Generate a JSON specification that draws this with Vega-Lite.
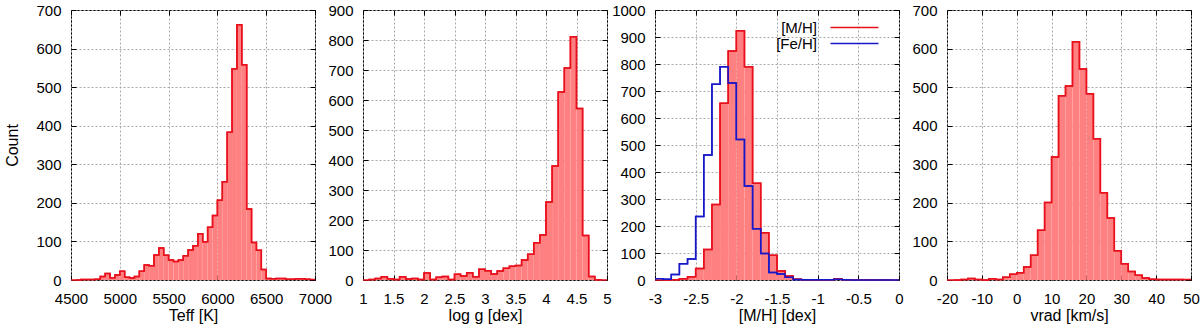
{
  "$schema": "https://vega.github.io/schema/vega-lite/v6.json",
  "padding": {"left": 4, "top": 2, "right": 5, "bottom": 2},
  "bounds": "flush",
  "spacing": 48,
  "config": {
    "locale": {"number": {"decimal": ".", "thousands": "", "grouping": [3], "currency": ["", ""], "minus": "-"}},
    "view": {"stroke": "#000000", "strokeWidth": 1},
    "font": "Liberation Sans",
    "axis": {
      "domain": false, "tickColor": "#000000", "tickSize": -5, "tickWidth": 1,
      "labelFont": "Liberation Sans", "labelFontSize": 15, "labelColor": "#000000",
      "titleFont": "Liberation Sans", "titleFontSize": 16, "titleFontWeight": "normal", "titleColor": "#000000",
      "gridColor": "#a8a8a8", "gridDash": [2, 2], "gridWidth": 1,
      "labelOverlap": false, "labelFlush": false, "format": "~f"
    },
    "axisX": {"labelPadding": 16, "titlePadding": 1},
    "axisY": {"labelPadding": 15, "titlePadding": 15},
    "legend": {"labelFont": "Liberation Sans", "labelFontSize": 15, "labelColor": "#000000"}
  },
  "datasets": {
    "teff": [
      {"lo":4500,"hi":4550,"count":0},{"lo":4550,"hi":4600,"count":0},{"lo":4600,"hi":4650,"count":1},{"lo":4650,"hi":4700,"count":1},
      {"lo":4700,"hi":4750,"count":1},{"lo":4750,"hi":4800,"count":2},{"lo":4800,"hi":4850,"count":9},{"lo":4850,"hi":4900,"count":17},
      {"lo":4900,"hi":4950,"count":6},{"lo":4950,"hi":5000,"count":13},{"lo":5000,"hi":5050,"count":23},{"lo":5050,"hi":5100,"count":7},
      {"lo":5100,"hi":5150,"count":5},{"lo":5150,"hi":5200,"count":9},{"lo":5200,"hi":5250,"count":23},{"lo":5250,"hi":5300,"count":39},
      {"lo":5300,"hi":5350,"count":37},{"lo":5350,"hi":5400,"count":65},{"lo":5400,"hi":5450,"count":83},{"lo":5450,"hi":5500,"count":64},
      {"lo":5500,"hi":5550,"count":52},{"lo":5550,"hi":5600,"count":48},{"lo":5600,"hi":5650,"count":52},{"lo":5650,"hi":5700,"count":63},
      {"lo":5700,"hi":5750,"count":78},{"lo":5750,"hi":5800,"count":89},{"lo":5800,"hi":5850,"count":120},{"lo":5850,"hi":5900,"count":99},
      {"lo":5900,"hi":5950,"count":137},{"lo":5950,"hi":6000,"count":167},{"lo":6000,"hi":6050,"count":207},{"lo":6050,"hi":6100,"count":255},
      {"lo":6100,"hi":6150,"count":383},{"lo":6150,"hi":6200,"count":548},{"lo":6200,"hi":6250,"count":662},{"lo":6250,"hi":6300,"count":558},
      {"lo":6300,"hi":6350,"count":184},{"lo":6350,"hi":6400,"count":97},{"lo":6400,"hi":6450,"count":77},{"lo":6450,"hi":6500,"count":27},
      {"lo":6500,"hi":6550,"count":4},{"lo":6550,"hi":6600,"count":3},{"lo":6600,"hi":6650,"count":4},{"lo":6650,"hi":6700,"count":4},
      {"lo":6700,"hi":6750,"count":2},{"lo":6750,"hi":6800,"count":2},{"lo":6800,"hi":6850,"count":3},{"lo":6850,"hi":6900,"count":3},
      {"lo":6900,"hi":6950,"count":2},{"lo":6950,"hi":7000,"count":1}
    ],
    "logg": [
      {"lo":1.0,"hi":1.1,"count":0},{"lo":1.1,"hi":1.2,"count":2},{"lo":1.2,"hi":1.3,"count":5},{"lo":1.3,"hi":1.4,"count":11},
      {"lo":1.4,"hi":1.5,"count":4},{"lo":1.5,"hi":1.6,"count":2},{"lo":1.6,"hi":1.7,"count":11},{"lo":1.7,"hi":1.8,"count":3},
      {"lo":1.8,"hi":1.9,"count":5},{"lo":1.9,"hi":2.0,"count":2},{"lo":2.0,"hi":2.1,"count":23},{"lo":2.1,"hi":2.2,"count":2},
      {"lo":2.2,"hi":2.3,"count":9},{"lo":2.3,"hi":2.4,"count":12},{"lo":2.4,"hi":2.5,"count":2},{"lo":2.5,"hi":2.6,"count":19},
      {"lo":2.6,"hi":2.7,"count":13},{"lo":2.7,"hi":2.8,"count":24},{"lo":2.8,"hi":2.9,"count":11},{"lo":2.9,"hi":3.0,"count":36},
      {"lo":3.0,"hi":3.1,"count":31},{"lo":3.1,"hi":3.2,"count":20},{"lo":3.2,"hi":3.3,"count":30},{"lo":3.3,"hi":3.4,"count":39},
      {"lo":3.4,"hi":3.5,"count":46},{"lo":3.5,"hi":3.6,"count":48},{"lo":3.6,"hi":3.7,"count":67},{"lo":3.7,"hi":3.8,"count":86},
      {"lo":3.8,"hi":3.9,"count":124},{"lo":3.9,"hi":4.0,"count":150},{"lo":4.0,"hi":4.1,"count":260},{"lo":4.1,"hi":4.2,"count":380},
      {"lo":4.2,"hi":4.3,"count":627},{"lo":4.3,"hi":4.4,"count":707},{"lo":4.4,"hi":4.5,"count":811},{"lo":4.5,"hi":4.6,"count":572},
      {"lo":4.6,"hi":4.7,"count":148},{"lo":4.7,"hi":4.8,"count":12},{"lo":4.8,"hi":4.9,"count":1},{"lo":4.9,"hi":5.0,"count":0}
    ],
    "mh": [
      {"series":"[M/H]","lo":-3.0,"hi":-2.9,"count":0},{"series":"[M/H]","lo":-2.9,"hi":-2.8,"count":0},
      {"series":"[M/H]","lo":-2.8,"hi":-2.7,"count":1},{"series":"[M/H]","lo":-2.7,"hi":-2.6,"count":5},
      {"series":"[M/H]","lo":-2.6,"hi":-2.5,"count":12},{"series":"[M/H]","lo":-2.5,"hi":-2.4,"count":43},
      {"series":"[M/H]","lo":-2.4,"hi":-2.3,"count":113},{"series":"[M/H]","lo":-2.3,"hi":-2.2,"count":280},
      {"series":"[M/H]","lo":-2.2,"hi":-2.1,"count":655},{"series":"[M/H]","lo":-2.1,"hi":-2.0,"count":848},
      {"series":"[M/H]","lo":-2.0,"hi":-1.9,"count":923},{"series":"[M/H]","lo":-1.9,"hi":-1.8,"count":790},
      {"series":"[M/H]","lo":-1.8,"hi":-1.7,"count":358},{"series":"[M/H]","lo":-1.7,"hi":-1.6,"count":175},
      {"series":"[M/H]","lo":-1.6,"hi":-1.5,"count":92},{"series":"[M/H]","lo":-1.5,"hi":-1.4,"count":33},
      {"series":"[M/H]","lo":-1.4,"hi":-1.3,"count":15},{"series":"[M/H]","lo":-1.3,"hi":-1.2,"count":3},
      {"series":"[M/H]","lo":-1.2,"hi":-1.1,"count":1},{"series":"[M/H]","lo":-1.1,"hi":-1.0,"count":1},
      {"series":"[M/H]","lo":-1.0,"hi":-0.9,"count":1},{"series":"[M/H]","lo":-0.9,"hi":-0.8,"count":1},
      {"series":"[M/H]","lo":-0.8,"hi":-0.7,"count":5},{"series":"[M/H]","lo":-0.7,"hi":-0.6,"count":1},
      {"series":"[M/H]","lo":-0.6,"hi":-0.5,"count":1},{"series":"[M/H]","lo":-0.5,"hi":-0.4,"count":0},
      {"series":"[M/H]","lo":-0.4,"hi":-0.3,"count":1},{"series":"[M/H]","lo":-0.3,"hi":-0.2,"count":0},
      {"series":"[M/H]","lo":-0.2,"hi":-0.1,"count":0},{"series":"[M/H]","lo":-0.1,"hi":0.0,"count":0},
      {"series":"[Fe/H]","lo":-3.0,"hi":-2.9,"count":5},{"series":"[Fe/H]","lo":-2.9,"hi":-2.8,"count":3},
      {"series":"[Fe/H]","lo":-2.8,"hi":-2.7,"count":20},{"series":"[Fe/H]","lo":-2.7,"hi":-2.6,"count":60},
      {"series":"[Fe/H]","lo":-2.6,"hi":-2.5,"count":78},{"series":"[Fe/H]","lo":-2.5,"hi":-2.4,"count":235},
      {"series":"[Fe/H]","lo":-2.4,"hi":-2.3,"count":463},{"series":"[Fe/H]","lo":-2.3,"hi":-2.2,"count":725},
      {"series":"[Fe/H]","lo":-2.2,"hi":-2.1,"count":790},{"series":"[Fe/H]","lo":-2.1,"hi":-2.0,"count":730},
      {"series":"[Fe/H]","lo":-2.0,"hi":-1.9,"count":520},{"series":"[Fe/H]","lo":-1.9,"hi":-1.8,"count":348},
      {"series":"[Fe/H]","lo":-1.8,"hi":-1.7,"count":190},{"series":"[Fe/H]","lo":-1.7,"hi":-1.6,"count":98},
      {"series":"[Fe/H]","lo":-1.6,"hi":-1.5,"count":28},{"series":"[Fe/H]","lo":-1.5,"hi":-1.4,"count":22},
      {"series":"[Fe/H]","lo":-1.4,"hi":-1.3,"count":10},{"series":"[Fe/H]","lo":-1.3,"hi":-1.2,"count":2},
      {"series":"[Fe/H]","lo":-1.2,"hi":-1.1,"count":1},{"series":"[Fe/H]","lo":-1.1,"hi":-1.0,"count":1},
      {"series":"[Fe/H]","lo":-1.0,"hi":-0.9,"count":1},{"series":"[Fe/H]","lo":-0.9,"hi":-0.8,"count":1},
      {"series":"[Fe/H]","lo":-0.8,"hi":-0.7,"count":3},{"series":"[Fe/H]","lo":-0.7,"hi":-0.6,"count":1},
      {"series":"[Fe/H]","lo":-0.6,"hi":-0.5,"count":0},{"series":"[Fe/H]","lo":-0.5,"hi":-0.4,"count":0},
      {"series":"[Fe/H]","lo":-0.4,"hi":-0.3,"count":0},{"series":"[Fe/H]","lo":-0.3,"hi":-0.2,"count":0},
      {"series":"[Fe/H]","lo":-0.2,"hi":-0.1,"count":0},{"series":"[Fe/H]","lo":-0.1,"hi":0.0,"count":0}
    ],
    "vrad": [
      {"lo":-20,"hi":-18,"count":0},{"lo":-18,"hi":-16,"count":0},{"lo":-16,"hi":-14,"count":1},{"lo":-14,"hi":-12,"count":4},
      {"lo":-12,"hi":-10,"count":1},{"lo":-10,"hi":-8,"count":0},{"lo":-8,"hi":-6,"count":3},{"lo":-6,"hi":-4,"count":1},
      {"lo":-4,"hi":-2,"count":7},{"lo":-2,"hi":0,"count":15},{"lo":0,"hi":2,"count":19},{"lo":2,"hi":4,"count":34},
      {"lo":4,"hi":6,"count":64},{"lo":6,"hi":8,"count":129},{"lo":8,"hi":10,"count":201},{"lo":10,"hi":12,"count":319},
      {"lo":12,"hi":14,"count":478},{"lo":14,"hi":16,"count":503},{"lo":16,"hi":18,"count":618},{"lo":18,"hi":20,"count":547},
      {"lo":20,"hi":22,"count":483},{"lo":22,"hi":24,"count":366},{"lo":24,"hi":26,"count":226},{"lo":26,"hi":28,"count":161},
      {"lo":28,"hi":30,"count":76},{"lo":30,"hi":32,"count":42},{"lo":32,"hi":34,"count":22},{"lo":34,"hi":36,"count":12},
      {"lo":36,"hi":38,"count":5},{"lo":38,"hi":40,"count":2},{"lo":40,"hi":42,"count":1},{"lo":42,"hi":44,"count":1},
      {"lo":44,"hi":46,"count":1},{"lo":46,"hi":48,"count":1},{"lo":48,"hi":50,"count":1}
    ]
  },
  "hconcat": [
    {
      "width": 244, "height": 270,
      "data": {"name": "teff"},
      "layer": [
        {"mark": {"type": "rect", "color": "#ff8080"},
         "encoding": {
           "x": {"field": "lo", "type": "quantitative", "scale": {"domain": [4500, 7000], "nice": false, "zero": false},
                 "axis": {"values": [4500,5000,5500,6000,6500,7000], "title": "Teff [K]"}},
           "x2": {"field": "hi"},
           "y": {"field": "count", "type": "quantitative", "scale": {"domain": [0, 700], "nice": false},
                 "axis": {"values": [0,100,200,300,400,500,600,700], "title": "Count"}},
           "y2": {"datum": 0}}},
        {"mark": {"type": "line", "interpolate": "step-after", "color": "#e8101c", "strokeWidth": 1.5},
         "encoding": {
           "x": {"field": "lo", "type": "quantitative", "axis": {"orient": "top", "values": [4500,5000,5500,6000,6500,7000], "labels": false, "grid": false, "title": null}},
           "y": {"field": "count", "type": "quantitative", "axis": {"orient": "right", "values": [0,100,200,300,400,500,600,700], "labels": false, "grid": false, "title": null}}}},
        {"mark": {"type": "line", "interpolate": "step-before", "color": "#e8101c", "strokeWidth": 1.5},
         "encoding": {
           "x": {"field": "hi", "type": "quantitative", "axis": null},
           "y": {"field": "count", "type": "quantitative", "axis": null}}}
      ],
      "resolve": {"axis": {"x": "independent", "y": "independent"}}
    },
    {
      "width": 244, "height": 270,
      "data": {"name": "logg"},
      "layer": [
        {"mark": {"type": "rect", "color": "#ff8080"},
         "encoding": {
           "x": {"field": "lo", "type": "quantitative", "scale": {"domain": [1, 5], "nice": false, "zero": false},
                 "axis": {"values": [1,1.5,2,2.5,3,3.5,4,4.5,5], "title": "log g [dex]"}},
           "x2": {"field": "hi"},
           "y": {"field": "count", "type": "quantitative", "scale": {"domain": [0, 900], "nice": false},
                 "axis": {"values": [0,100,200,300,400,500,600,700,800,900], "title": null}},
           "y2": {"datum": 0}}},
        {"mark": {"type": "line", "interpolate": "step-after", "color": "#e8101c", "strokeWidth": 1.5},
         "encoding": {
           "x": {"field": "lo", "type": "quantitative", "axis": {"orient": "top", "values": [1,1.5,2,2.5,3,3.5,4,4.5,5], "labels": false, "grid": false, "title": null}},
           "y": {"field": "count", "type": "quantitative", "axis": {"orient": "right", "values": [0,100,200,300,400,500,600,700,800,900], "labels": false, "grid": false, "title": null}}}},
        {"mark": {"type": "line", "interpolate": "step-before", "color": "#e8101c", "strokeWidth": 1.5},
         "encoding": {
           "x": {"field": "hi", "type": "quantitative", "axis": null},
           "y": {"field": "count", "type": "quantitative", "axis": null}}}
      ],
      "resolve": {"axis": {"x": "independent", "y": "independent"}}
    },
    {
      "width": 244, "height": 270,
      "data": {"name": "mh"},
      "layer": [
        {"transform": [{"filter": "datum.series === '[M/H]'"}],
         "mark": {"type": "rect", "color": "#ff8080"},
         "encoding": {
           "x": {"field": "lo", "type": "quantitative", "scale": {"domain": [-3, 0], "nice": false, "zero": false},
                 "axis": {"values": [-3,-2.5,-2,-1.5,-1,-0.5,0], "title": "[M/H] [dex]"}},
           "x2": {"field": "hi"},
           "y": {"field": "count", "type": "quantitative", "scale": {"domain": [0, 1000], "nice": false},
                 "axis": {"values": [0,100,200,300,400,500,600,700,800,900,1000], "title": null}},
           "y2": {"datum": 0}}},
        {"mark": {"type": "line", "interpolate": "step-after", "strokeWidth": 1.5},
         "encoding": {
           "x": {"field": "lo", "type": "quantitative", "axis": {"orient": "top", "values": [-3,-2.5,-2,-1.5,-1,-0.5,0], "labels": false, "grid": false, "title": null}},
           "y": {"field": "count", "type": "quantitative", "axis": {"orient": "right", "values": [0,100,200,300,400,500,600,700,800,900,1000], "labels": false, "grid": false, "title": null}},
           "color": {"field": "series", "type": "nominal",
                     "scale": {"domain": ["[M/H]", "[Fe/H]"], "range": ["#e8101c", "#1818c8"]},
                     "legend": {"orient": "none", "legendX": 776, "legendY": 10, "title": null,
                                "symbolType": "M-5,0H5", "symbolSize": 92, "symbolStrokeWidth": 1.5,
                                "labelAlign": "right", "labelOffset": -45, "rowPadding": -7, "padding": 0}}}},
        {"mark": {"type": "line", "interpolate": "step-before", "strokeWidth": 1.5},
         "encoding": {
           "x": {"field": "hi", "type": "quantitative", "axis": null},
           "y": {"field": "count", "type": "quantitative", "axis": null},
           "color": {"field": "series", "type": "nominal"}}}
      ],
      "resolve": {"axis": {"x": "independent", "y": "independent"}}
    },
    {
      "width": 244, "height": 270,
      "data": {"name": "vrad"},
      "layer": [
        {"mark": {"type": "rect", "color": "#ff8080"},
         "encoding": {
           "x": {"field": "lo", "type": "quantitative", "scale": {"domain": [-20, 50], "nice": false, "zero": false},
                 "axis": {"values": [-20,-10,0,10,20,30,40,50], "title": "vrad [km/s]"}},
           "x2": {"field": "hi"},
           "y": {"field": "count", "type": "quantitative", "scale": {"domain": [0, 700], "nice": false},
                 "axis": {"values": [0,100,200,300,400,500,600,700], "title": null}},
           "y2": {"datum": 0}}},
        {"mark": {"type": "line", "interpolate": "step-after", "color": "#e8101c", "strokeWidth": 1.5},
         "encoding": {
           "x": {"field": "lo", "type": "quantitative", "axis": {"orient": "top", "values": [-20,-10,0,10,20,30,40,50], "labels": false, "grid": false, "title": null}},
           "y": {"field": "count", "type": "quantitative", "axis": {"orient": "right", "values": [0,100,200,300,400,500,600,700], "labels": false, "grid": false, "title": null}}}},
        {"mark": {"type": "line", "interpolate": "step-before", "color": "#e8101c", "strokeWidth": 1.5},
         "encoding": {
           "x": {"field": "hi", "type": "quantitative", "axis": null},
           "y": {"field": "count", "type": "quantitative", "axis": null}}}
      ],
      "resolve": {"axis": {"x": "independent", "y": "independent"}}
    }
  ]
}
